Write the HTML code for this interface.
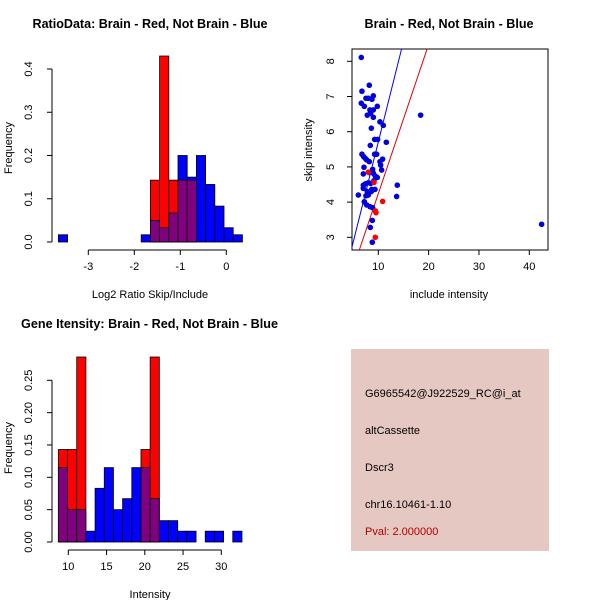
<!DOCTYPE html>
<html><head><meta charset="utf-8"><style>
html,body{margin:0;padding:0;background:#fff}
svg{display:block;font-family:"Liberation Sans",sans-serif}
</style></head><body>
<svg id="c" width="600" height="600" viewBox="0 0 600 600" xmlns="http://www.w3.org/2000/svg"></svg>
<script>
// ---- Panel 1: ratio histogram ----
const ratioBinStart = -3.65;
const ratioBinWidth = 0.2;
const ratioBlue = [0.0167,0,0,0,0,0,0,0,0,0.0167,0.05,0.033,0.067,0.2,0.15,0.2,0.133,0.083,0.033,0.0167];
const ratioRed  = [0,0,0,0,0,0,0,0,0,0,0.143,0.43,0.143,0.143,0.143,0,0,0,0,0];
const ratioXTicks = [-3,-2,-1,0];
const ratioYTicks = [0,0.1,0.2,0.3,0.4];
const ratioYLabels = ["0.0","0.1","0.2","0.3","0.4"];
// ---- Panel 2: scatter ----
const blueX = [6.62,8.21,6.75,7.55,8.01,9.01,8.74,6.62,7.22,9.80,8.34,7.81,8.48,9.01,9.01,10.33,10.99,8.61,9.27,9.87,11.59,8.41,9.27,9.67,6.75,7.09,7.42,7.68,8.21,7.15,10.33,10.86,10.46,10.66,8.87,9.01,9.40,9.80,7.02,8.15,9.14,7.42,8.01,8.48,7.02,7.02,8.68,9.34,7.81,8.61,7.55,8.01,6.03,7.22,7.68,8.34,8.87,13.64,13.77,18.41,42.45,8.81,8.41,8.81];
const blueY = [8.11,7.32,7.15,6.95,6.95,7.02,6.92,6.81,6.72,6.72,6.62,6.47,6.52,6.62,6.41,6.28,6.18,6.10,5.78,5.78,5.70,5.61,5.36,5.36,5.36,5.29,5.24,5.20,5.15,4.99,5.15,5.22,5.05,4.91,4.93,4.82,4.74,4.70,4.80,4.84,4.61,4.52,4.55,4.53,4.39,4.48,4.36,4.36,4.30,4.30,4.18,4.20,4.20,4.01,3.92,3.87,3.84,4.16,4.48,6.47,3.37,3.48,3.28,2.86];
const redX = [8.01,9.14,9.54,9.40,10.86,9.40];
const redY = [4.85,4.56,3.70,3.75,4.02,3.00];
const blueSlope = 0.571;
const redSlope = 0.424;
const scatXTicks = [10,20,30,40];
const scatYTicks = [3,4,5,6,7,8];
// ---- Panel 3: intensity histogram ----
const intBinStart = 8.7;
const intBinWidth = 1.2;
const intBlue = [0.115,0.05,0.05,0.0167,0.083,0.115,0.05,0.067,0.115,0.115,0.067,0.033,0.033,0.0167,0.0167,0,0.0167,0.0167,0,0.0167];
const intRed  = [0.143,0.143,0.286,0,0,0,0,0,0,0.143,0.286,0,0,0,0,0,0,0,0,0];
const intXTicks = [10,15,20,25,30];
const intYTicks = [0,0.05,0.10,0.15,0.20,0.25];
const intYLabels = ["0.00","0.05","0.10","0.15","0.20","0.25"];

const NS="http://www.w3.org/2000/svg";
const svg=document.getElementById('c');
function mk(tag,attrs,parent){const e=document.createElementNS(NS,tag);for(const k in attrs)e.setAttribute(k,attrs[k]);(parent||svg).appendChild(e);return e;}
function txt(s,attrs,parent){const e=mk('text',attrs,parent);e.textContent=s;return e;}
function lin(a,b,c,d){return x=>c+(x-a)*(d-c)/(b-a);}

function yAxis(g,sy,ticks,labels,x0){
  const ax=mk('line',{x1:x0,x2:x0,y1:sy(ticks[0]),y2:sy(ticks[ticks.length-1]),stroke:'#000'},g);
  
  
  ticks.forEach((t,i)=>{
    mk('line',{x1:x0-5,x2:x0,y1:sy(t),y2:sy(t),stroke:'#000'},g);
    const tl=txt(labels[i],{x:x0-20,y:sy(t),'font-size':11,'text-anchor':'middle',transform:`rotate(-90 ${x0-20} ${sy(t)})`},g);
    
    
  });
}
function xAxis(g,sx,ticks,y0){
  const ax=mk('line',{x1:sx(ticks[0]),x2:sx(ticks[ticks.length-1]),y1:y0,y2:y0,stroke:'#000'},g);
  
  
  ticks.forEach(t=>{
    mk('line',{x1:sx(t),x2:sx(t),y1:y0,y2:y0+5,stroke:'#000'},g);
    const tl=txt(String(t),{x:sx(t),y:y0+20,'font-size':11,'text-anchor':'middle'},g);
    
    
  });
}
function hist(g,sx,sy,start,w,blue,red){
  blue.forEach((b,i)=>{
    const r=red[i];const x0=sx(start+i*w),x1=sx(start+(i+1)*w);
    const hi=Math.max(b,r),lo=Math.min(b,r);
    if(hi>0){
      const e=mk('rect',{x:x0,y:sy(hi),width:x1-x0,height:sy(0)-sy(hi),fill:b>=r?'#0000ff':'#ff0000',stroke:'#000','stroke-width':0.8},g);
      
      
    }
    if(lo>0){
      const e=mk('rect',{x:x0,y:sy(lo),width:x1-x0,height:sy(0)-sy(lo),fill:'#800080',stroke:'#000','stroke-width':0.8},g);
      
      
    }
  });
}
function title(s,x,y,len){const t=txt(s,{x:x,y:y,'font-size':13,'font-weight':'bold','text-anchor':'middle',textLength:len,lengthAdjust:'spacingAndGlyphs'});}
function label(s,x,y,rot){const t=txt(s,{x:x,y:y,'font-size':11,'text-anchor':'middle',transform:rot?`rotate(-90 ${x} ${y})`:''});}

// Panel 1
{
  const g=mk('g',{});
  const sx=lin(-3,0,88.3,226.3), sy=lin(0,0.4,242,69);
  hist(g,sx,sy,ratioBinStart,ratioBinWidth,ratioBlue,ratioRed);
  yAxis(g,sy,ratioYTicks,ratioYLabels,52);
  xAxis(g,sx,ratioXTicks,250);
  title('RatioData: Brain - Red, Not Brain - Blue',150,28,235);
  label('Log2 Ratio Skip/Include',150,298,false);
  label('Frequency',12,148,true);
}
// Panel 2
{
  const g=mk('g',{});
  const sx=lin(10,40,378.3,529.3), sy=lin(3,8,237.3,61.3);
  mk('clipPath',{id:'cp'},g).appendChild((()=>{const r=document.createElementNS(NS,'rect');r.setAttribute('x',352);r.setAttribute('y',49);r.setAttribute('width',196);r.setAttribute('height',201);return r;})());
  const box=mk('rect',{x:352,y:49,width:196,height:201,fill:'none',stroke:'#000'},g);
  
  const x0=4,x1=45;
  const bl=mk('line',{x1:sx(x0),y1:sy(blueSlope*x0),x2:sx(x1),y2:sy(blueSlope*x1),stroke:'#0000ff','clip-path':'url(#cp)'},g);
  
  const rl=mk('line',{x1:sx(x0),y1:sy(redSlope*x0),x2:sx(x1),y2:sy(redSlope*x1),stroke:'#dd0000','clip-path':'url(#cp)'},g);
  
  blueX.forEach((x,i)=>{const c=mk('circle',{cx:sx(x),cy:sy(blueY[i]),r:2.8,fill:'#0000dd'},g);});
  redX.forEach((x,i)=>{const c=mk('circle',{cx:sx(x),cy:sy(redY[i]),r:2.8,fill:'#ff0000'},g);});
  scatXTicks.forEach(t=>{mk('line',{x1:sx(t),x2:sx(t),y1:250,y2:255,stroke:'#000'},g);const l=txt(String(t),{x:sx(t),y:270,'font-size':11,'text-anchor':'middle'},g);});
  scatYTicks.forEach(t=>{mk('line',{x1:347,x2:352,y1:sy(t),y2:sy(t),stroke:'#000'},g);const l=txt(String(t),{x:334,y:sy(t),'font-size':11,'text-anchor':'middle',transform:`rotate(-90 334 ${sy(t)})`},g);});
  title('Brain - Red, Not Brain - Blue',449,28,169);
  label('include intensity',449,298,false);
  label('skip intensity',312,150,true);
}
// Panel 3
{
  const g=mk('g',{});
  const sx=lin(10,30,68.3,221.3), sy=lin(0,0.25,542,380.3);
  hist(g,sx,sy,intBinStart,intBinWidth,intBlue,intRed);
  yAxis(g,sy,intYTicks,intYLabels,52);
  xAxis(g,sx,intXTicks,550);
  title('Gene Itensity: Brain - Red, Not Brain - Blue',149.5,328,257);
  label('Intensity',150,598,false);
  label('Frequency',12,448,true);
}
// Panel 4
{
  const g=mk('g',{});
  mk('rect',{x:351,y:349,width:198,height:202,fill:'#e6c8c2'},g);
  const lines=[['G6965542@J922529_RC@i_at',397,'#000'],['altCassette',434,'#000'],['Dscr3',471,'#000'],['chr16.10461-1.10',508,'#000'],['Pval: 2.000000',535,'#b00000']];
  lines.forEach(l=>{const t=txt(l[0],{x:365,y:l[1],'font-size':11,fill:l[2]},g);});
}
</script>
</body></html>
